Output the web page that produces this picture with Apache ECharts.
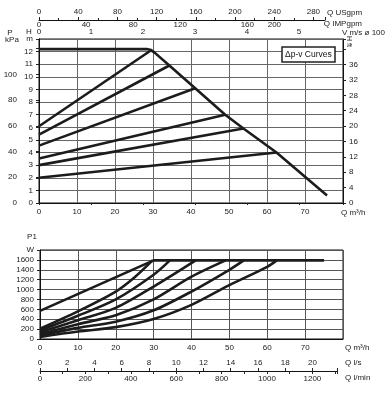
<!DOCTYPE html>
<html><head><meta charset="utf-8">
<script src="https://cdn.jsdelivr.net/npm/echarts@6/dist/echarts.min.js"></script>
<style>html,body{margin:0;padding:0;background:#fff}#c{width:386px;height:395px}</style>
</head><body><div id="c"></div>
<script>
const FONT = 'Liberation Sans';
const TXT = '#222';

// ---- Top chart: head H (m) vs flow Q (m3/h)
const maxCurve = [[0,12.2],[28.3,12.2],[29.5,12.12],[30.5,11.9],[34.3,10.9],[41.1,9.1],[49.0,7.0],[53.8,5.9],[62.5,4.0],[75.8,0.6]];
const dpv1 = [[0,6.08],[29.7,12.15]];
const dpv2 = [[0,5.42],[34.3,10.9]];
const dpv3 = [[0,4.55],[41.1,9.1]];
const dpv4 = [[0,3.53],[49.0,7.0]];
const dpv5 = [[0,3.0],[53.8,5.9]];
const dpv6 = [[0,2.0],[62.5,4.0]];

// ---- Bottom chart: power P1 (W) vs flow Q (m3/h)
const p1Max = [[0,570],[30,1590],[75,1590]];
const p1A = [[0,210],[10,560],[20,960],[25,1250],[29.7,1590]];
const p1B = [[0,175],[10,470],[20,800],[30,1300],[34.3,1590]];
const p1C = [[0,135],[10,380],[20,630],[30,1060],[41.1,1590]];
const p1D = [[0,100],[10,300],[20,480],[30,800],[40,1260],[49,1590]];
const p1E = [[0,70],[10,225],[20,350],[30,580],[40,960],[50,1400],[53.8,1590]];
const p1F = [[0,40],[10,150],[20,240],[30,404],[40,690],[50,1090],[60,1460],[62.5,1590]];

// ---- Tick labels
const qLabels = [0,10,20,30,40,50,60,70];
const hLabels = [0,1,2,3,4,5,6,7,8,9,10,11,12];
const kpaLabels = [0,20,40,60,80,100];
const ftLabels = [0,4,8,12,16,20,24,28,32,36];
const vLabels = [0,1,2,3,4,5];
const usgpmLabels = [0,40,80,120,160,200,240,280];
const impgpmLabels = [0,40,80,120,160,200];
const wLabels = [0,200,400,600,800,1000,1200,1400,1600];
const lsLabels = [0,2,4,6,8,10,12,14,16,18,20];
const lminLabels = [0,200,400,600,800,1000,1200];

function fmt(list, extra) {
  return function (v) {
    if (extra && extra[v] !== undefined) return extra[v];
    return list.indexOf(v) >= 0 ? String(v) : '';
  };
}
const lbl = (o) => Object.assign({fontFamily: FONT, fontSize: 8, color: TXT}, o);
const tick = (o) => Object.assign({show: true, length: 3, lineStyle: {color: '#222', width: 1}}, o);
const axLine = {show: true, lineStyle: {color: '#111', width: 1}};
const noAx = {show: false};
const grid = (o) => Object.assign({containLabel: false, outerBoundsMode: 'none', show: true, borderColor: '#111', borderWidth: 1}, o);
const line = (data, x, y) => ({type: 'line', data: data, xAxisIndex: x, yAxisIndex: y, symbol: 'none',
  lineStyle: {color: '#1c1c1c', width: 2.6}, silent: true});
const curve = (data) => Object.assign(line(data, 2, 3), {smooth: 0.3});

const chart = echarts.init(document.getElementById('c'), null, {renderer: 'canvas'});
chart.setOption({
  animation: false,
  backgroundColor: '#fff',
  title: {text: 'Δp-v Curves', left: 282, top: 47, padding: [3, 3],
    borderColor: '#222', borderWidth: 1.5, backgroundColor: '#fff',
    textStyle: {fontSize: 8.5, fontWeight: 'normal', fontFamily: FONT, color: '#111'}},
  grid: [
    grid({left: 39, top: 39, width: 304, height: 164}),
    grid({left: 40, top: 250, width: 303, height: 89}),
    Object.assign(grid({left: 39, top: 19, width: 286, height: 1}), {show: false}),
    Object.assign(grid({left: 40, top: 370, width: 297, height: 1}), {show: false})
  ],
  xAxis: [
    {gridIndex: 0, type: 'value', position: 'bottom', min: 0, max: 80, interval: 10,
      axisLine: axLine, axisTick: noAx, axisLabel: lbl({margin: 5, formatter: fmt(qLabels)}),
      splitLine: {show: true, lineStyle: {color: '#666', width: 1}}},
    {gridIndex: 0, type: 'value', position: 'top', min: 0, max: 304 / 52, interval: 1,
      axisLine: axLine, axisTick: tick({inside: true, length: 2}), axisLabel: lbl({margin: 3, formatter: fmt(vLabels)}),
      splitLine: noAx},
    {gridIndex: 1, type: 'value', position: 'bottom', min: 0, max: 80, interval: 10,
      axisLine: axLine, axisTick: noAx, axisLabel: lbl({margin: 5, formatter: fmt(qLabels)}),
      splitLine: {show: true, lineStyle: {color: '#555', width: 1}}},
    {gridIndex: 2, type: 'value', position: 'top', min: 0, max: 286 / 0.98, interval: 40,
      axisLine: axLine, axisTick: tick({}), minorTick: {show: true, splitNumber: 2, length: 2, lineStyle: {color: '#222'}},
      axisLabel: lbl({margin: 3, formatter: fmt(usgpmLabels)}), splitLine: noAx, minorSplitLine: noAx},
    {gridIndex: 2, type: 'value', position: 'bottom', min: 0, max: 286 / 1.177, interval: 40,
      axisLine: noAx, axisTick: noAx,
      axisLabel: lbl({margin: 1, formatter: fmt(impgpmLabels, {160: '{s|160}'}),
        rich: {s: {fontFamily: FONT, fontSize: 8, color: TXT, padding: [0, 0, 0, 40]}}}),
      splitLine: noAx},
    {gridIndex: 3, type: 'value', position: 'top', min: 0, max: 297 / 13.62, interval: 2,
      axisLine: axLine, axisTick: tick({}), axisLabel: lbl({margin: 3, formatter: fmt(lsLabels)}), splitLine: noAx},
    {gridIndex: 3, type: 'value', position: 'bottom', min: 0, max: 297 / 13.62 * 60, interval: 200,
      axisLine: noAx, axisTick: tick({}), minorTick: {show: true, splitNumber: 2, length: 3, lineStyle: {color: '#222'}},
      axisLabel: lbl({margin: 4, formatter: fmt(lminLabels)}), splitLine: noAx, minorSplitLine: noAx}
  ],
  yAxis: [
    {gridIndex: 0, type: 'value', position: 'left', min: 0, max: 13, interval: 1,
      axisLine: axLine, axisTick: tick({}), axisLabel: lbl({margin: 6, formatter: fmt(hLabels, {13: 'm'})}),
      splitLine: {show: true, lineStyle: {color: '#666', width: 1}}},
    {gridIndex: 0, type: 'value', position: 'left', offset: 18, min: 0, max: 13 * 9.80665, interval: 20,
      axisLine: axLine, axisTick: tick({}), axisLabel: lbl({margin: 4, formatter: fmt(kpaLabels)}), splitLine: noAx},
    {gridIndex: 0, type: 'value', position: 'right', min: 0, max: 13 * 3.28084, interval: 4,
      axisLine: axLine, axisTick: tick({}), axisLabel: lbl({margin: 6, formatter: fmt(ftLabels)}), splitLine: noAx},
    {gridIndex: 1, type: 'value', position: 'left', min: 0, max: 1800, interval: 200,
      axisLine: axLine, axisTick: tick({}), axisLabel: lbl({margin: 6, formatter: fmt(wLabels, {1800: 'W'})}),
      splitLine: {show: true, lineStyle: {color: '#555', width: 1}}},
    {gridIndex: 2, type: 'value', show: false, min: 0, max: 1},
    {gridIndex: 3, type: 'value', show: false, min: 0, max: 1}
  ],
  graphic: [
    {type: 'text', x: 10, y: 33, style: {text: 'P', fontSize: 8, fontFamily: FONT, fill: TXT, align: 'center', verticalAlign: 'middle'}},
    {type: 'text', x: 12, y: 40, style: {text: 'kPa', fontSize: 8, fontFamily: FONT, fill: TXT, align: 'center', verticalAlign: 'middle'}},
    {type: 'text', x: 29, y: 32, style: {text: 'H', fontSize: 8, fontFamily: FONT, fill: TXT, align: 'center', verticalAlign: 'middle'}},
    {type: 'text', x: 349, y: 36, rotation: -Math.PI / 2, style: {text: 'H ft', fontSize: 7, fontFamily: FONT, fill: TXT, align: 'left', verticalAlign: 'middle'}},
    {type: 'text', x: 327, y: 13, style: {text: 'Q USgpm', fontSize: 8, fontFamily: FONT, fill: TXT, align: 'left', verticalAlign: 'middle'}},
    {type: 'text', x: 362, y: 24, style: {text: 'Q IMPgpm', fontSize: 8, fontFamily: FONT, fill: TXT, align: 'right', verticalAlign: 'middle'}},
    {type: 'text', x: 385, y: 33, style: {text: 'V m/s ø 100', fontSize: 8, fontFamily: FONT, fill: TXT, align: 'right', verticalAlign: 'middle'}},
    {type: 'text', x: 341, y: 213, style: {text: 'Q m³/h', fontSize: 8, fontFamily: FONT, fill: TXT, align: 'left', verticalAlign: 'middle'}},
    {type: 'text', x: 32, y: 237, style: {text: 'P1', fontSize: 8, fontFamily: FONT, fill: TXT, align: 'center', verticalAlign: 'middle'}},
    {type: 'text', x: 345, y: 348, style: {text: 'Q m³/h', fontSize: 8, fontFamily: FONT, fill: TXT, align: 'left', verticalAlign: 'middle'}},
    {type: 'text', x: 345, y: 363, style: {text: 'Q l/s', fontSize: 8, fontFamily: FONT, fill: TXT, align: 'left', verticalAlign: 'middle'}},
    {type: 'text', x: 345, y: 378, style: {text: 'Q l/min', fontSize: 8, fontFamily: FONT, fill: TXT, align: 'left', verticalAlign: 'middle'}}
  ],
  series: [
    line(maxCurve, 0, 0),
    line(dpv1, 0, 0), line(dpv2, 0, 0), line(dpv3, 0, 0),
    line(dpv4, 0, 0), line(dpv5, 0, 0), line(dpv6, 0, 0),
    line(p1Max, 2, 3),
    curve(p1A), curve(p1B), curve(p1C), curve(p1D), curve(p1E), curve(p1F)
  ]
});
</script></body></html>
